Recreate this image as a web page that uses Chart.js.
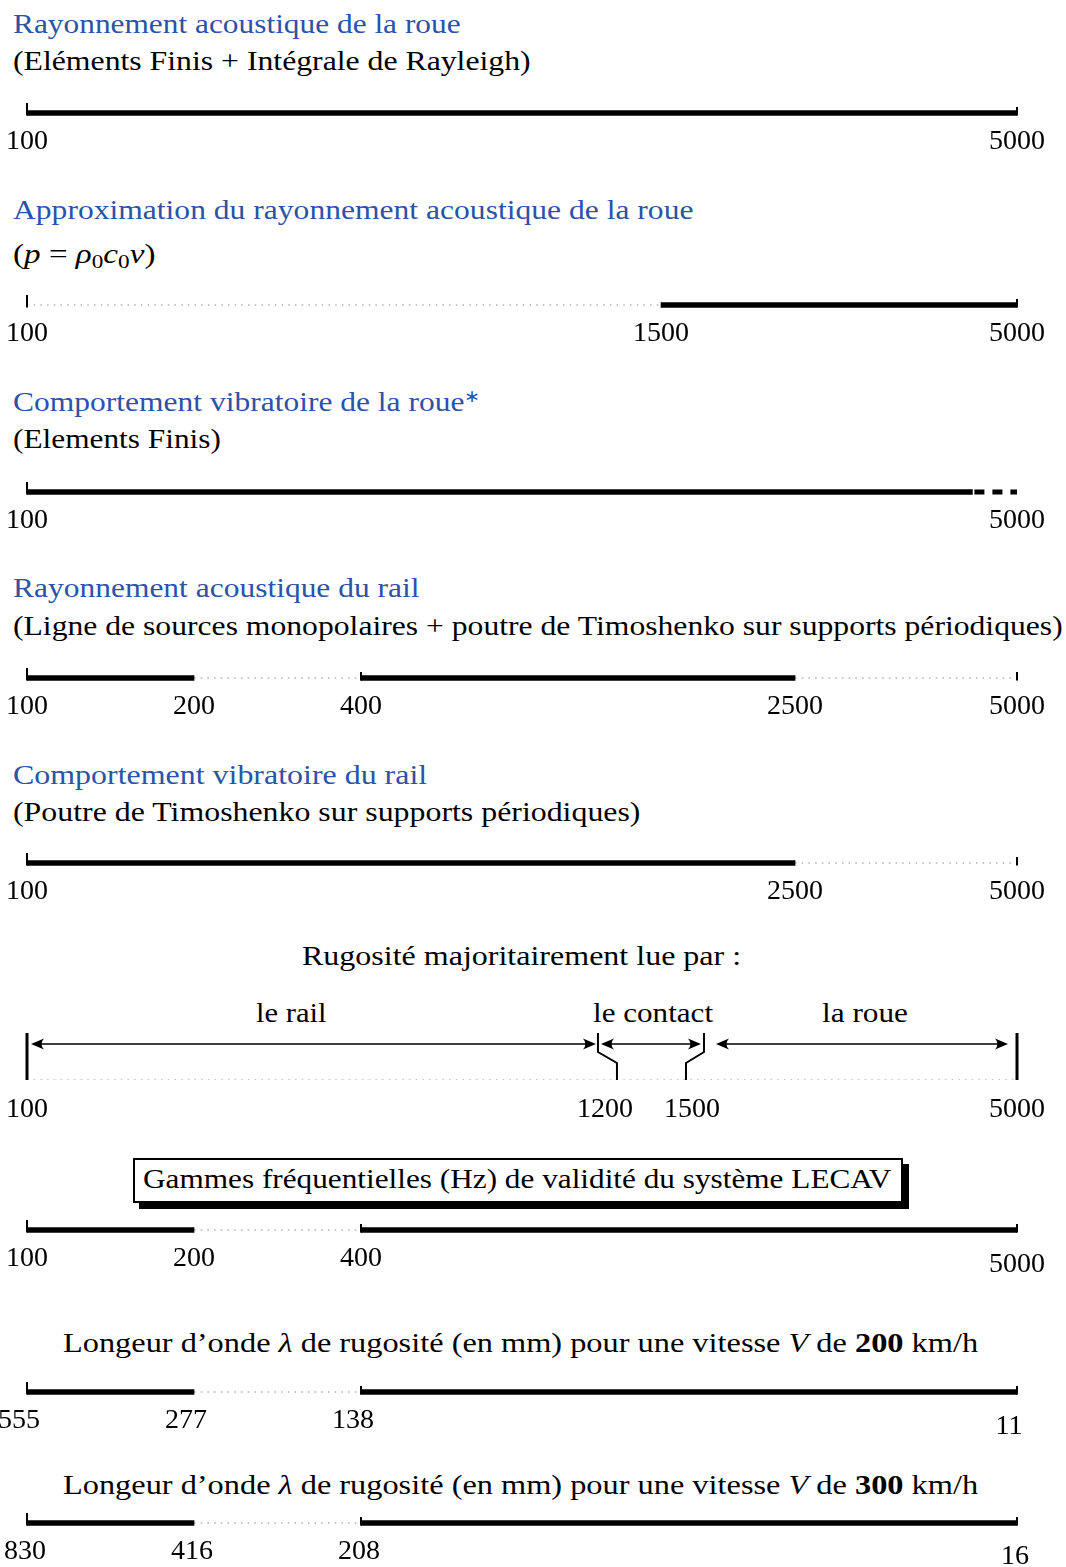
<!DOCTYPE html>
<html><head><meta charset="utf-8">
<script src="https://cdn.jsdelivr.net/npm/chart.js@4.4.1/dist/chart.umd.min.js"></script>
<style>
html,body{margin:0;padding:0;background:#fff;}
#page{position:relative;width:1066px;height:1567px;overflow:hidden;font-family:'Liberation Serif',serif;font-size:28px;color:#000;background:#fff;}
.t{position:absolute;white-space:nowrap;line-height:28px;transform-origin:0 0;}
.t sub{font-size:0.7em;vertical-align:baseline;position:relative;top:0.28em;}
.t sup{font-size:0.6em;vertical-align:baseline;position:relative;top:-0.5em;}
.blue{color:#2b53a7;}
.row{position:absolute;left:0;width:1066px;}
.row canvas{display:block;}
#box{position:absolute;left:133px;top:1158px;width:770px;height:45px;box-sizing:border-box;border:2px solid #000;box-shadow:6px 6px 0 #000;background:#fff;}
</style>
</head><body>
<div id="page"><div id="box"></div></div>
<script>
// ---------------- data ----------------
const row1Ticks = [100, 5000];
const row1Solid = [[100, 5000]];

const row2Ticks = [100, 1500, 5000];
const row2Dotted = [[100, 1500]];
const row2Solid = [[1500, 5000]];

const row3Ticks = [100, 5000];
const row3Solid = [[100, 4350]];
const row3Dashed = [[4350, 5000]];

const row4Ticks = [100, 200, 400, 2500, 5000];
const row4Solid = [[100, 200], [400, 2500]];
const row4Dotted = [[200, 400], [2500, 5000]];

const row5Ticks = [100, 2500, 5000];
const row5Solid = [[100, 2500]];
const row5Dotted = [[2500, 5000]];

const rugBounds = [100, 1200, 1500, 5000];
const rugZones = ['le rail', 'le contact', 'la roue'];

const lecavTicks = [100, 200, 400, 5000];
const lecavSolid = [[100, 200], [400, 5000]];
const lecavDotted = [[200, 400]];

const wave200Labels = ['555', '277', '138', '11'];
const wave300Labels = ['830', '416', '208', '16'];

// ---------------- schematic frequency axis ----------------
const ANCH = [[100, 0], [200, 0.1687], [400, 0.3374], [1500, 0.6404], [2500, 0.7758], [5000, 1]];
const ANCH_RUG = [[100, 0], [1200, 0.5838], [1500, 0.6717], [5000, 1]];

class SchematicScale extends Chart.LinearScale {
  buildTicks() {
    return (this.options.tickValues || []).map(v => ({ value: v }));
  }
  _frac(v) {
    const a = this.options.anchors;
    if (v <= a[0][0]) return a[0][1];
    for (let i = 1; i < a.length; i++) {
      if (v <= a[i][0]) {
        const v0 = a[i - 1][0], f0 = a[i - 1][1], v1 = a[i][0], f1 = a[i][1];
        return f0 + (f1 - f0) * Math.log(v / v0) / Math.log(v1 / v0);
      }
    }
    return a[a.length - 1][1];
  }
  getPixelForValue(v) { return this.getPixelForDecimal(this._frac(v)); }
  getValueForPixel(p) {
    const f = this.getDecimalForPixel(p), a = this.options.anchors;
    for (let i = 1; i < a.length; i++) {
      if (f <= a[i][1]) {
        const v0 = a[i - 1][0], f0 = a[i - 1][1], v1 = a[i][0], f1 = a[i][1];
        return v0 * Math.pow(v1 / v0, (f - f0) / (f1 - f0));
      }
    }
    return a[a.length - 1][0];
  }
}
SchematicScale.id = 'schematic';
Chart.register(SchematicScale);
Chart.defaults.font.family = 'Liberation Serif';
Chart.defaults.font.size = 28;

const page = document.getElementById('page');
const FS = 28, LH = 1.2;
const DOT = { borderColor: '#8a8a8a', borderWidth: 1.2, borderDash: [1.5, 5.2], pointRadius: 0, borderCapStyle: 'butt' };

const capsPlugin = {
  id: 'caps',
  afterDatasetsDraw(chart, args, opts) {
    const x = chart.scales.x, y = chart.scales.y;
    const cy = y.getPixelForValue(0);
    const ctx = chart.ctx;
    ctx.save(); ctx.strokeStyle = '#000'; ctx.lineWidth = 2;
    const draw = (v, len) => {
      const px = x.getPixelForValue(v);
      ctx.beginPath(); ctx.moveTo(px, cy + 2.5); ctx.lineTo(px, cy - len); ctx.stroke();
    };
    (opts.tall || []).forEach(v => draw(v, 10));
    (opts.short || []).forEach(v => draw(v, 6));
    ctx.restore();
  }
};

function addCanvas(top, h) {
  const div = document.createElement('div');
  div.className = 'row'; div.style.top = top + 'px'; div.style.height = h + 'px';
  const cv = document.createElement('canvas');
  div.appendChild(cv); page.appendChild(div);
  return cv;
}

function xAxis(anchors, ticks, pad, axisH, extra) {
  const nT = ticks.length;
  return {
    type: 'schematic', min: 100, max: 5000, anchors: anchors, tickValues: ticks,
    grid: { display: false, drawTicks: false }, border: { display: false },
    afterFit: (s) => { s.height = axisH; s.paddingLeft = 0; s.paddingRight = 0; },
    ticks: {
      autoSkip: false, maxRotation: 0, minRotation: 0, padding: pad, color: '#000',
      font: (ctx) => ({ family: 'Liberation Serif', size: FS,
        lineHeight: (extra && ctx.index === nT - 1) ? (FS * LH + 2 * extra) / FS : LH })
    }
  };
}

function rowChart(cfg) {
  const pad = 2, extra = cfg.lowLast || 0;
  const axisH = 40, area = 20, H = area + axisH;
  const cv = addCanvas(Math.round(cfg.barY - area / 2), H);
  const seg = (s) => [{ x: s[0], y: 'r' }, { x: s[1], y: 'r' }];
  const datasets = [{
    type: 'bar',
    data: (cfg.solid || []).map(s => ({ x: s, y: 'r' })),
    backgroundColor: '#000', borderWidth: 0, barThickness: 5
  }];
  (cfg.dotted || []).forEach(s => datasets.push(Object.assign({ type: 'line', data: seg(s) }, DOT)));
  (cfg.dashed || []).forEach(s => datasets.push({
    type: 'line', data: seg(s), borderColor: '#000', borderWidth: 5,
    borderDash: [10, 8], borderDashOffset: -2, pointRadius: 0, borderCapStyle: 'butt'
  }));
  const xa = xAxis(ANCH, cfg.ticks, pad, axisH, extra);
  xa.ticks.callback = (v, i) => cfg.labels ? cfg.labels[i] : String(v);
  xa.ticks.labelOffset = cfg.labelOffset || 0;
  new Chart(cv, {
    type: 'bar',
    data: { labels: ['r'], datasets },
    options: {
      indexAxis: 'y', responsive: true, maintainAspectRatio: false, animation: false,
      layout: { padding: { left: 27, right: 49, top: 0, bottom: 0 } },
      plugins: { legend: { display: false }, tooltip: { enabled: false }, caps: cfg.caps || {} },
      scales: { y: { type: 'category', display: false }, x: xa }
    },
    plugins: [capsPlugin]
  });
}

rowChart({ barY: 112.5, solid: row1Solid, ticks: row1Ticks, caps: { tall: [100], short: [5000] } });
rowChart({ barY: 304.5, solid: row2Solid, dotted: row2Dotted, ticks: row2Ticks, caps: { tall: [100], short: [5000] } });
rowChart({ barY: 491.5, solid: row3Solid, dashed: row3Dashed, ticks: row3Ticks, caps: { tall: [100] } });
rowChart({ barY: 678, solid: row4Solid, dotted: row4Dotted, ticks: row4Ticks, caps: { tall: [100], short: [400, 5000] } });
rowChart({ barY: 863, solid: row5Solid, dotted: row5Dotted, ticks: row5Ticks, caps: { tall: [100], short: [5000] } });
rowChart({ barY: 1230, solid: lecavSolid, dotted: lecavDotted, ticks: lecavTicks, lowLast: 6, caps: { tall: [100], short: [400, 5000] } });
rowChart({ barY: 1391.5, solid: lecavSolid, dotted: lecavDotted, ticks: lecavTicks, labels: wave200Labels, labelOffset: -8, lowLast: 6, caps: { tall: [100], short: [400, 5000] } });
rowChart({ barY: 1522.5, solid: lecavSolid, dotted: lecavDotted, ticks: lecavTicks, labels: wave300Labels, labelOffset: -2, lowLast: 5, caps: { tall: [100], short: [400, 5000] } });

// ---------------- roughness chart ----------------
function arrowHead(ctx, x, y, dir) {
  ctx.beginPath();
  ctx.moveTo(x, y);
  ctx.lineTo(x - dir * 13, y - 5.5);
  ctx.quadraticCurveTo(x - dir * 8, y, x - dir * 13, y + 5.5);
  ctx.closePath(); ctx.fill();
}
function dblArrow(ctx, x0, x1, y) {
  ctx.beginPath(); ctx.moveTo(x0 + 6, y); ctx.lineTo(x1 - 6, y); ctx.stroke();
  arrowHead(ctx, x0, y, -1); arrowHead(ctx, x1, y, 1);
}
const rugPlugin = {
  id: 'rug',
  afterDatasetsDraw(chart) {
    const x = chart.scales.x, a = chart.chartArea, ctx = chart.ctx;
    const p = rugBounds.map(v => x.getPixelForValue(v));
    const top = a.top, bot = a.bottom, k1 = top + 19, k2 = top + 30, ay = top + 11;
    ctx.save();
    ctx.strokeStyle = '#000'; ctx.fillStyle = '#000';
    ctx.lineWidth = 3;
    [p[0], p[3]].forEach(px => { ctx.beginPath(); ctx.moveTo(px, top); ctx.lineTo(px, bot); ctx.stroke(); });
    ctx.lineWidth = 2;
    const b1t = p[1] - 7, b1b = p[1] + 12, b2t = p[2] + 12, b2b = p[2] - 6;
    [[b1t, b1b], [b2t, b2b]].forEach(([xt, xb]) => {
      ctx.beginPath(); ctx.moveTo(xt, top); ctx.lineTo(xt, k1); ctx.lineTo(xb, k2); ctx.lineTo(xb, bot); ctx.stroke();
    });
    ctx.lineWidth = 1.5;
    dblArrow(ctx, p[0] + 4, b1t - 2, ay);
    dblArrow(ctx, b1t + 3, b2t - 3, ay);
    dblArrow(ctx, b2t + 12, p[3] - 9, ay);
    ctx.restore();
  }
};
(function () {
  const pad = 13, area = 47, axisH = 50, H = area + axisH;
  const cv = addCanvas(1033, H);
  const xa = xAxis(ANCH_RUG, rugBounds, pad, axisH, 0);
  xa.ticks.callback = (v) => String(v);
  new Chart(cv, {
    type: 'line',
    data: { datasets: [Object.assign({ data: [{ x: rugBounds[0], y: 0 }, { x: rugBounds[3], y: 0 }] }, DOT)] },
    options: {
      responsive: true, maintainAspectRatio: false, animation: false,
      layout: { padding: { left: 27, right: 49, top: 0, bottom: 0 } },
      plugins: { legend: { display: false }, tooltip: { enabled: false } },
      scales: { y: { type: 'linear', min: 0, max: 1, display: false }, x: xa }
    },
    plugins: [rugPlugin]
  });
})();

// ---------------- texts ----------------
const texts = [
  ['Rayonnement acoustique de la roue', 13, 33, 448, 'blue'],
  ['(Eléments Finis + Intégrale de Rayleigh)', 13, 70, 518, ''],
  ['Approximation du rayonnement acoustique de la roue', 13, 219, 680, 'blue'],
  ['(<i>p</i> = <i>ρ</i><sub>0</sub><i>c</i><sub>0</sub><i>v</i>)', 13, 263, 142, ''],
  ['Comportement vibratoire de la roue<sup>∗</sup>', 13, 411, 467, 'blue'],
  ['(Elements Finis)', 13, 448, 208, ''],
  ['Rayonnement acoustique du rail', 13, 597, 407, 'blue'],
  ['(Ligne de sources monopolaires + poutre de Timoshenko sur supports périodiques)', 13, 635, 1050, ''],
  ['Comportement vibratoire du rail', 13, 784, 414, 'blue'],
  ['(Poutre de Timoshenko sur supports périodiques)', 13, 821, 627, ''],
  ['Rugosité majoritairement lue par :', 302, 965, 439, ''],
  [rugZones[0], 256, 1022, 71, ''],
  [rugZones[1], 593, 1022, 120, ''],
  [rugZones[2], 822, 1022, 86, ''],
  ['Gammes fréquentielles (Hz) de validité du système LECAV', 143, 1188, 749, ''],
  ['Longeur d’onde <i>λ</i> de rugosité (en mm) pour une vitesse <i>V</i> de <b>200</b> km/h', 63, 1352, 915, ''],
  ['Longeur d’onde <i>λ</i> de rugosité (en mm) pour une vitesse <i>V</i> de <b>300</b> km/h', 63, 1494, 915, '']
];
texts.forEach(([html, left, base, w, cls]) => {
  const el = document.createElement('div');
  el.className = 't ' + cls;
  el.innerHTML = html;
  el.style.left = left + 'px';
  el.style.top = (base - 23.5) + 'px';
  page.appendChild(el);
  const nat = el.offsetWidth;
  if (nat > 0) el.style.transform = 'scaleX(' + (w / nat).toFixed(4) + ')';
});
</script>
</body></html>
